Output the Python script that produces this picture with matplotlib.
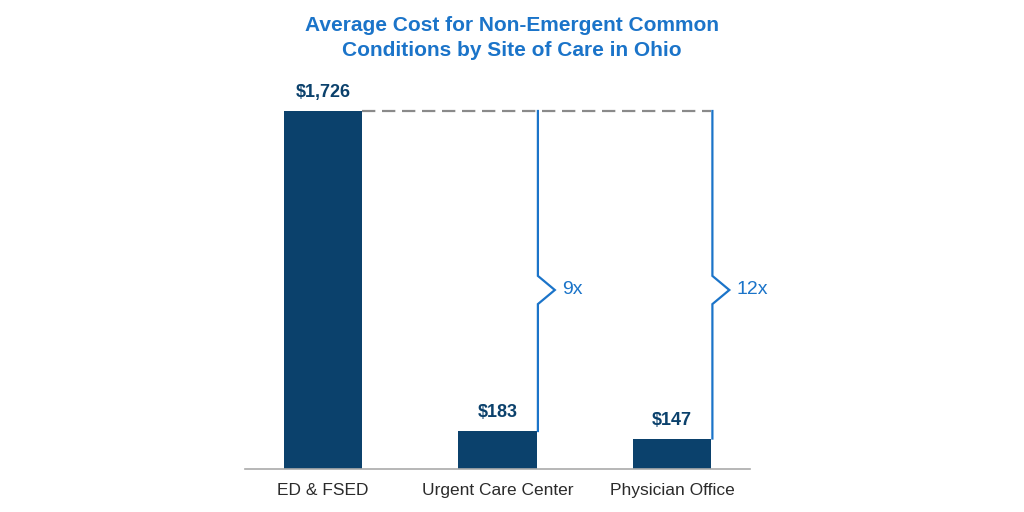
import matplotlib
matplotlib.use("Agg")
import matplotlib.pyplot as plt

# data
sites = ["ED & FSED", "Urgent Care Center", "Physician Office"]
costs = [1726, 183, 147]
cost_labels = ["$1,726", "$183", "$147"]
multiples = ["", "9x", "12x"]
title = "Average Cost for Non-Emergent Common\nConditions by Site of Care in Ohio"

navy = "#0b416c"
blue = "#1b74c9"
plt.rcParams["font.family"] = ["Liberation Sans", "DejaVu Sans"]

fig = plt.figure(figsize=(10.24, 5.12), dpi=100)
ax = fig.add_axes([245 / 1024, 43 / 512, 505 / 1024, 358 / 512])

x = list(range(len(sites)))
bar_w = 0.447
ax.bar(x, costs, width=bar_w, color=navy, zorder=2)

ax.set_xlim(-0.447, 2.447)
ax.set_ylim(0, max(costs))

# value labels
for xi, c, lab in zip(x, costs, cost_labels):
    ax.annotate(lab, (xi, c), xytext=(0, 7), textcoords="offset points",
                ha="center", va="bottom", fontsize=13, fontweight="bold",
                color=navy, annotation_clip=False)

top = max(costs)
# dashed reference line at the top
ax.plot([x[0] + bar_w / 2, x[-1] + bar_w / 2], [top, top], color="#8a8a8a",
        lw=1.6, ls=(0, (6, 3)), zorder=1, clip_on=False)

# brackets with zigzag and multiple labels
kink_y = top / 2
kink_h = 68
kink_dx = 0.097
for xi, c, m in zip(x, costs, multiples):
    if not m:
        continue
    xr = xi + bar_w / 2 + 0.008
    ax.plot([xr, xr, xr + kink_dx, xr, xr],
            [top, kink_y + kink_h, kink_y, kink_y - kink_h, c],
            color=blue, lw=1.6, zorder=3, clip_on=False, solid_joinstyle="miter")
    ax.text(xr + 0.14, kink_y, m, ha="left", va="center", fontsize=14,
            color=blue)

# axis styling
for s in ["top", "right", "left"]:
    ax.spines[s].set_visible(False)
ax.spines["bottom"].set_color("#aaaaaa")
ax.spines["bottom"].set_linewidth(1.2)
ax.set_yticks([])
ax.set_xticks(x)
ax.set_xticklabels(sites, fontsize=12.5, color="#2b2b2b")
ax.tick_params(axis="x", length=0, pad=10)

fig.text(0.5, 1 - 38 / 512, title, ha="center", va="center", fontsize=15,
         fontweight="bold", color=blue, linespacing=1.4)

fig.savefig("out.png", dpi=100)
